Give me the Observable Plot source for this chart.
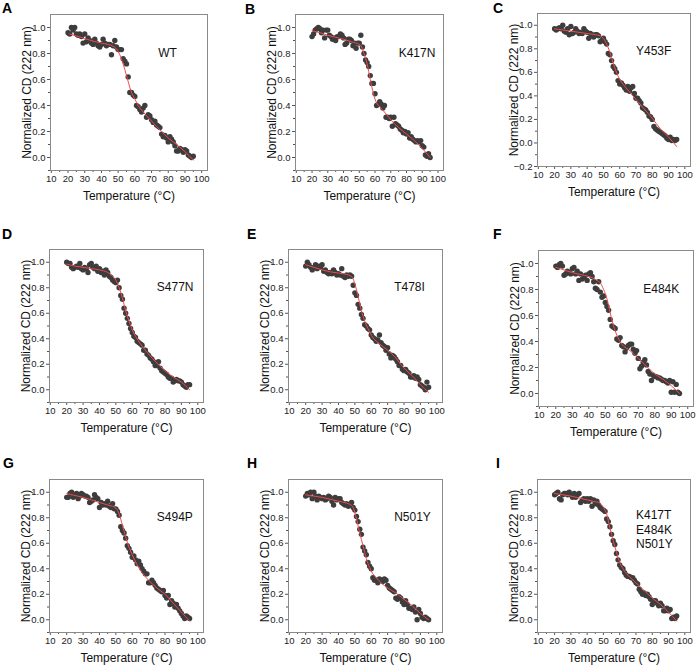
<!DOCTYPE html>
<html>
<head>
<meta charset="utf-8">
<script src="https://cdn.jsdelivr.net/npm/d3@7"></script>
<script src="https://cdn.jsdelivr.net/npm/@observablehq/plot@0.6"></script>
<style>
  html, body { margin: 0; padding: 0; background: #fff; }
  #root { position: relative; width: 697px; height: 666px; overflow: hidden; font-family: "Liberation Sans", Arial, sans-serif; }
  .panel { position: absolute; }
  .letter { position: absolute; font-weight: bold; font-size: 14px; line-height: 14px; color: #000; }
</style>
</head>
<body>
<div id="root"></div>
<script>
// ---------- data ----------
const temps = [20,21,22,23,24,25,26,27,28,29,30,31,32,33,34,35,36,37,38,39,40,41,42,43,44,45,46,47,48,49,
  50,51,52,53,54,55,56,57,58,59,60,61,62,63,64,65,66,67,68,69,70,71,72,73,74,75,76,77,78,79,
  80,81,82,83,84,85,86,87,88,89,90,91,92,93,94,95];

const cdWT = [0.96,0.95,1.00,0.98,1.00,0.95,0.94,0.95,0.93,0.88,
  0.95,0.89,0.92,0.90,0.88,0.87,0.91,0.88,0.86,0.85,
  0.87,0.91,0.88,0.86,0.87,0.87,0.79,0.86,0.90,0.85,
  0.83,0.83,0.83,0.76,0.74,0.72,0.62,0.50,0.50,0.48,
  0.47,0.40,0.39,0.37,0.35,0.38,0.40,0.31,0.33,0.32,
  0.29,0.27,0.28,0.25,0.24,0.23,0.18,0.16,0.17,0.15,
  0.12,0.16,0.14,0.12,0.09,0.05,0.05,0.07,0.06,0.04,
  0.06,0.05,0.02,0.01,0.00,0.01];
const cdK417N = [0.93,0.95,0.98,0.99,1.00,0.99,0.96,0.98,0.92,0.98,
  0.98,0.94,0.93,0.91,0.92,0.90,0.93,0.93,0.95,0.94,
  0.92,0.87,0.88,0.91,0.91,0.90,0.86,0.88,0.84,0.88,
  0.88,0.94,0.85,0.80,0.75,0.73,0.70,0.63,0.57,0.57,
  0.49,0.40,0.41,0.43,0.41,0.38,0.40,0.31,0.31,0.30,
  0.31,0.24,0.31,0.26,0.25,0.24,0.22,0.21,0.19,0.20,
  0.18,0.19,0.15,0.16,0.14,0.13,0.12,0.13,0.12,0.13,
  0.09,0.08,0.02,0.01,0.03,0.00];
const cdY453F = [0.97,0.96,0.97,0.98,0.97,1.00,0.95,0.94,0.97,0.92,
  0.99,0.93,0.94,0.97,0.95,0.93,0.94,0.93,0.97,0.95,
  0.94,0.89,0.93,0.92,0.90,0.92,0.92,0.91,0.86,0.87,
  0.89,0.86,0.84,0.76,0.75,0.70,0.65,0.63,0.60,0.53,
  0.50,0.51,0.49,0.47,0.45,0.48,0.44,0.47,0.48,0.42,
  0.38,0.38,0.36,0.34,0.30,0.29,0.28,0.26,0.23,0.22,
  0.20,0.14,0.12,0.11,0.10,0.09,0.08,0.07,0.06,0.04,
  0.03,0.05,0.02,0.03,0.02,0.03];
const cdS477N = [1.00,0.99,0.99,0.96,0.95,0.96,0.97,0.96,0.99,0.95,
  0.94,0.96,0.95,0.92,0.98,0.99,0.96,0.95,0.97,0.93,
  0.95,0.92,0.93,0.90,0.94,0.92,0.89,0.88,0.86,0.85,
  0.84,0.86,0.80,0.74,0.71,0.64,0.60,0.56,0.52,0.48,
  0.45,0.42,0.41,0.38,0.37,0.36,0.35,0.31,0.31,0.28,
  0.27,0.25,0.24,0.22,0.19,0.19,0.22,0.17,0.15,0.14,
  0.13,0.12,0.10,0.09,0.09,0.06,0.07,0.08,0.07,0.07,
  0.06,0.04,0.03,0.02,0.04,0.04];
const cdT478I = [0.97,1.00,0.98,0.96,0.94,0.96,0.98,0.95,0.97,0.96,
  0.98,0.93,0.94,0.92,0.91,0.92,0.91,0.94,0.92,0.90,
  0.91,0.90,0.95,0.89,0.88,0.90,0.89,0.90,0.89,0.82,
  0.76,0.74,0.67,0.64,0.59,0.56,0.51,0.50,0.48,0.47,
  0.43,0.41,0.40,0.38,0.39,0.43,0.37,0.35,0.34,0.31,
  0.33,0.28,0.25,0.27,0.26,0.24,0.22,0.19,0.19,0.16,
  0.15,0.16,0.14,0.13,0.10,0.10,0.11,0.09,0.10,0.08,
  0.04,0.03,0.02,0.00,0.06,0.02];
const cdE484K = [0.98,0.97,0.99,1.00,0.98,0.91,0.92,0.94,0.93,0.92,
  0.96,0.97,0.92,0.94,0.87,0.92,0.88,0.89,0.91,0.87,
  0.92,0.93,0.90,0.86,0.81,0.80,0.86,0.78,0.74,0.75,
  0.70,0.67,0.64,0.57,0.52,0.51,0.50,0.42,0.41,0.43,
  0.37,0.36,0.32,0.35,0.37,0.38,0.38,0.34,0.31,0.33,
  0.27,0.19,0.21,0.24,0.26,0.22,0.17,0.15,0.10,0.14,
  0.13,0.13,0.12,0.12,0.11,0.10,0.10,0.09,0.08,0.10,
  0.01,0.09,0.01,0.07,0.01,0.00];
const cdS494P = [0.96,0.96,0.99,1.00,0.96,0.97,0.99,0.95,0.97,0.99,
  0.98,0.97,0.97,0.96,0.92,0.93,0.94,0.98,0.96,0.95,
  0.88,0.92,0.90,0.91,0.90,0.93,0.89,0.88,0.91,0.87,
  0.87,0.85,0.82,0.73,0.70,0.68,0.64,0.58,0.56,0.53,
  0.49,0.50,0.47,0.44,0.46,0.43,0.40,0.38,0.36,0.36,
  0.29,0.29,0.31,0.29,0.27,0.25,0.24,0.23,0.22,0.23,
  0.19,0.17,0.19,0.12,0.15,0.13,0.10,0.12,0.09,0.07,
  0.05,0.03,0.01,0.03,0.02,0.01];
const cdN501Y = [0.97,0.99,0.98,1.00,0.95,1.00,0.97,0.94,0.97,0.96,
  0.95,0.96,0.94,0.95,0.97,0.96,0.93,0.90,0.96,0.94,
  0.95,0.95,0.92,0.91,0.90,0.91,0.89,0.90,0.92,0.88,
  0.86,0.81,0.77,0.71,0.67,0.57,0.54,0.51,0.45,0.42,
  0.40,0.33,0.31,0.31,0.29,0.32,0.31,0.30,0.32,0.31,
  0.27,0.25,0.24,0.23,0.22,0.17,0.16,0.18,0.17,0.14,
  0.12,0.15,0.12,0.09,0.09,0.08,0.10,0.06,0.00,0.08,
  0.05,0.02,0.01,0.02,0.01,0.00];
const cdTriple = [0.98,0.99,1.00,0.95,0.94,0.98,0.99,0.99,0.98,1.00,
  0.98,0.96,0.99,0.96,0.98,0.99,0.92,0.94,0.95,0.93,
  0.95,0.93,0.95,0.89,0.94,0.91,0.93,0.90,0.88,0.87,
  0.86,0.85,0.79,0.77,0.73,0.67,0.62,0.59,0.52,0.47,
  0.43,0.41,0.40,0.37,0.35,0.34,0.34,0.33,0.33,0.31,
  0.29,0.28,0.24,0.22,0.20,0.21,0.19,0.20,0.18,0.16,
  0.12,0.15,0.15,0.13,0.11,0.13,0.11,0.07,0.07,0.09,
  0.07,0.08,0.01,0.02,0.01,0.03];

// fitted curves
const fitT_WT = [21,25,30,35,40,44,47,49,51,53,55,57,58,60,62,65,70,76,80,85,90,95];
const fitWT   = [0.95,0.935,0.915,0.895,0.88,0.87,0.855,0.835,0.79,0.72,0.63,0.54,0.50,0.45,0.40,0.35,0.28,0.20,0.15,0.10,0.045,-0.02];
const fitT_K417N = [20,25,30,35,40,45,50,51,53,55,57,59,61,63,66,70,75,80,85,90,95];
const fitK417N   = [0.975,0.96,0.94,0.925,0.91,0.89,0.87,0.86,0.80,0.72,0.60,0.49,0.42,0.39,0.35,0.29,0.23,0.18,0.13,0.07,0.0];
const fitT_Y453F = [20,25,30,35,40,45,48,50,52,54,56,58,60,62,65,70,75,80,85,90,95];
const fitY453F   = [0.97,0.96,0.95,0.94,0.93,0.92,0.91,0.89,0.84,0.77,0.68,0.60,0.54,0.50,0.45,0.37,0.29,0.21,0.12,0.05,-0.03];
const fitT_S477N = [20,25,30,35,40,45,48,50,52,54,56,58,60,62,65,70,75,80,85,90,95];
const fitS477N   = [0.985,0.97,0.96,0.95,0.94,0.92,0.89,0.86,0.80,0.72,0.62,0.54,0.47,0.42,0.36,0.28,0.21,0.15,0.10,0.06,0.0];
const fitT_T478I = [20,25,30,35,40,45,47,48.5,50,52,54,56,58,61,65,70,75,78,80,85,90,95];
const fitT478I   = [0.98,0.96,0.94,0.925,0.915,0.905,0.895,0.88,0.83,0.73,0.62,0.54,0.48,0.41,0.36,0.31,0.25,0.20,0.17,0.11,0.04,-0.02];
const fitT_E484K = [20,25,30,35,40,45,47,49,51,53,55,57,60,65,70,75,80,85,90,95];
const fitE484K   = [0.97,0.95,0.93,0.915,0.90,0.87,0.85,0.80,0.73,0.62,0.52,0.45,0.38,0.33,0.27,0.21,0.15,0.11,0.06,0.0];
const fitT_S494P = [20,25,30,35,40,45,48,50,52,54,56,58,60,63,66,70,75,80,85,90,95];
const fitS494P   = [0.99,0.975,0.96,0.94,0.92,0.90,0.89,0.875,0.83,0.74,0.65,0.57,0.51,0.43,0.37,0.31,0.25,0.20,0.13,0.06,-0.01];
const fitT_N501Y = [20,25,30,35,40,45,47,49,51,53,55,57,59,61,63,66,70,75,80,85,90,95];
const fitN501Y   = [0.98,0.97,0.96,0.945,0.93,0.915,0.905,0.88,0.79,0.68,0.58,0.48,0.41,0.36,0.33,0.29,0.25,0.21,0.16,0.11,0.05,0.0];
const fitT_Triple = [20,25,30,35,40,45,47,50,52,54,56,58,60,62,65,70,75,80,85,90,95];
const fitTriple   = [0.99,0.98,0.97,0.955,0.94,0.925,0.92,0.88,0.83,0.72,0.62,0.53,0.45,0.40,0.35,0.29,0.23,0.17,0.12,0.06,-0.01];

const letters = ["A","B","C","D","E","F","G","H","I"];
const names = ["WT","K417N","Y453F","S477N","T478I","E484K","S494P","N501Y","K417T\nE484K\nN501Y"];
const nameX = [74,75,70,75,74,73,75,74,70];
const nameY = [0.81,0.81,0.785,0.81,0.81,0.81,0.81,0.81,0.71];

const xTicks = [10,20,30,40,50,60,70,80,90,100];
const xMinorTicks = [15,25,35,45,55,65,75,85,95];
const yTicks = [0.0,0.2,0.4,0.6,0.8,1.0];
const yMinorTicks = [-0.1,0.1,0.3,0.5,0.7,0.9];
const yTicksC = [-0.2,0.0,0.2,0.4,0.6,0.8,1.0];
const yMinorTicksC = [-0.1,0.1,0.3,0.5,0.7,0.9];
const xTitle = "Temperature (°C)";
const yTitle = "Normalized CD (222 nm)";

const seriesValues = [cdWT, cdK417N, cdY453F, cdS477N, cdT478I, cdE484K, cdS494P, cdN501Y, cdTriple];
const fitTemps = [fitT_WT, fitT_K417N, fitT_Y453F, fitT_S477N, fitT_T478I, fitT_E484K, fitT_S494P, fitT_N501Y, fitT_Triple];
const fitValues = [fitWT, fitK417N, fitY453F, fitS477N, fitT478I, fitE484K, fitS494P, fitN501Y, fitTriple];

// ---------- layout (frame left, top, width, height; letter position) ----------
const layout = [
  {frame: [50, 14, 157, 156], letter: [2, 1]},
  {frame: [295, 14, 148, 156], letter: [245, 2]},
  {frame: [537, 13, 153, 153], letter: [493, 1], alt: true},
  {frame: [49, 249, 154, 153], letter: [2, 227]},
  {frame: [288, 249, 154, 153], letter: [247, 227]},
  {frame: [538, 250, 155, 156], letter: [493, 227]},
  {frame: [49, 479, 154, 153], letter: [3, 456]},
  {frame: [288, 479, 154, 153], letter: [247, 456]},
  {frame: [537, 479, 153, 153], letter: [496, 456]}
];

const root = document.getElementById("root");
const mL = 50, mT = 8, mR = 4, mB = 40;
const font = "'Liberation Sans', Arial, sans-serif";
const fmt = d3.format(".1f");

layout.forEach((lay, i) => {
  const [fl, ft, fw, fh] = lay.frame;
  const pts = temps.map((t, j) => ({t, v: seriesValues[i][j]}));
  const fit = fitTemps[i].map((t, j) => ({t, v: fitValues[i][j]}));
  const yDom = lay.alt ? [-0.2, 1.1] : [-0.1, 1.1];
  const yT = lay.alt ? yTicksC : yTicks;
  const yM = lay.alt ? yMinorTicksC : yMinorTicks;
  const chart = Plot.plot({
    width: fw + mL + mR,
    height: fh + mT + mB,
    marginLeft: mL, marginRight: mR, marginTop: mT, marginBottom: mB,
    style: {fontFamily: font, fontSize: "9.5px", color: "#222", background: "transparent", overflow: "visible"},
    x: {domain: [9.5, 103.5]},
    y: {domain: yDom},
    marks: [
      Plot.axisX({ticks: xTicks, tickSize: 3, tickPadding: 2, tickFormat: d => String(d), label: null, stroke: "#555"}),
      Plot.axisX({ticks: xMinorTicks, tickSize: 2, tickFormat: () => "", label: null, stroke: "#555"}),
      Plot.axisY({ticks: yT, tickSize: 3, tickPadding: 2, tickFormat: d => fmt(d), label: null, stroke: "#555"}),
      Plot.axisY({ticks: yM, tickSize: 2, tickFormat: () => "", label: null, stroke: "#555"}),
      Plot.frame({stroke: "#8a8a8a", strokeWidth: 1}),
      Plot.dot(pts, {x: "t", y: "v", r: 2.7, fill: "#3d3d3d", stroke: "none"}),
      Plot.line(fit, {x: "t", y: "v", stroke: "#f24a4a", strokeWidth: 1, curve: "monotone-x"}),
      Plot.text([names[i]], {x: nameX[i], y: nameY[i], text: d => d, textAnchor: "start", lineAnchor: "middle", lineHeight: 1.2, fontSize: 12, fill: "#111"}),
      Plot.text([xTitle], {frameAnchor: "bottom", text: d => d, lineAnchor: "middle", dy: 26, fontSize: 12, fill: "#111"}),
      Plot.text([yTitle], {frameAnchor: "left", text: d => d, rotate: -90, textAnchor: "middle", lineAnchor: "middle", dx: -23, fontSize: 12, fill: "#111"})
    ]
  });
  chart.classList.add("panel");
  chart.style.left = (fl - mL) + "px";
  chart.style.top = (ft - mT) + "px";
  root.appendChild(chart);

  const lt = document.createElement("div");
  lt.className = "letter";
  lt.textContent = letters[i];
  lt.style.left = lay.letter[0] + "px";
  lt.style.top = lay.letter[1] + "px";
  root.appendChild(lt);
});
</script>
</body>
</html>
